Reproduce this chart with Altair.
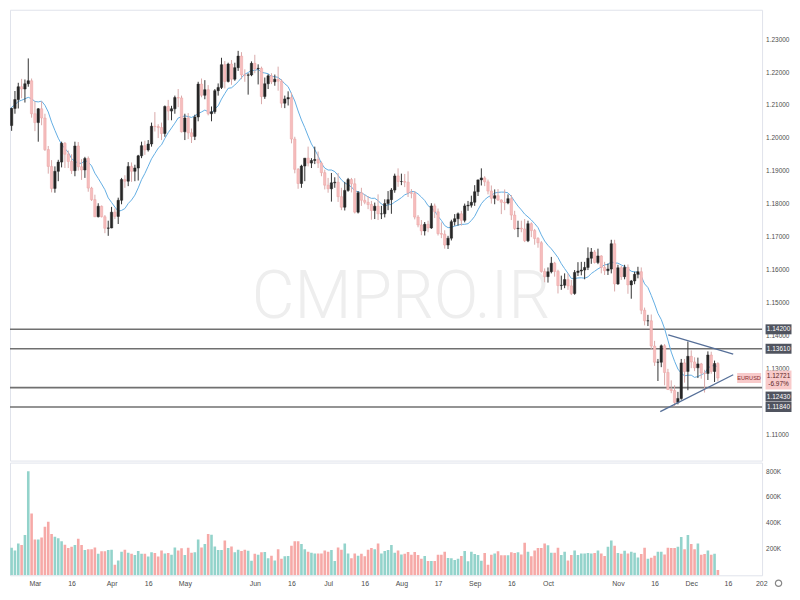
import altair as alt
import pandas as pd

# ---------------- data (EURUSD daily) ----------------
# bar index: 0 = Mar 1 (trading days only); first visible bar is index -8
first_index = -8

opens = [1.2104,1.2039,1.2091,1.2118,1.2157,1.2150,1.2166,1.2175,
 1.2075,1.2048,1.2090,1.2062,1.1966,1.1915,1.1848,1.1900,1.1928,1.1985,
 1.1952,1.1930,1.1902,1.1977,1.1914,1.1904,1.1939,1.1849,1.1814,1.1762,
 1.1794,1.1762,1.1727,1.1728,1.1776,1.1763,1.1812,1.1875,1.1870,1.1915,
 1.1900,1.1910,1.1947,1.1978,1.1965,1.1983,1.2037,1.2036,1.2033,1.2015,
 1.2097,1.2083,1.2090,1.2124,1.2123,1.2020,1.2062,1.2017,1.2006,1.2065,
 1.2165,1.2131,1.2148,1.2075,1.2081,1.2145,1.2155,1.2224,1.2173,1.2226,
 1.2180,1.2215,1.2250,1.2193,1.2192,1.2193,1.2228,1.2212,1.2213,1.2127,
 1.2166,1.2190,1.2172,1.2180,1.2174,1.2107,1.2120,1.2124,1.1998,1.1906,
 1.1863,1.1916,1.1940,1.1925,1.1933,1.1936,1.1925,1.1896,1.1858,1.1847,
 1.1865,1.1867,1.1823,1.1791,1.1842,1.1875,1.1862,1.1776,1.1835,1.1812,
 1.1806,1.1799,1.1781,1.1794,1.1771,1.1771,1.1802,1.1814,1.1843,1.1886,
 1.1869,1.1869,1.1867,1.1835,1.1833,1.1761,1.1737,1.1719,1.1739,1.1728,
 1.1795,1.1777,1.1711,1.1709,1.1676,1.1697,1.1747,1.1756,1.1771,1.1751,
 1.1795,1.1797,1.1806,1.1838,1.1874,1.1880,1.1868,1.1840,1.1818,1.1826,
 1.1813,1.1806,1.1804,1.1817,1.1767,1.1726,1.1727,1.1725,1.1689,1.1741,
 1.1720,1.1696,1.1683,1.1596,1.1580,1.1595,1.1621,1.1596,1.1553,1.1554,
 1.1571,1.1552,1.1529,1.1593,1.1597,1.1600,1.1608,1.1636,1.1655,1.1623,
 1.1643,1.1608,1.1598,1.1603,1.1680,1.1558,1.1607,1.1580,1.1608,1.1555,
 1.1567,1.1587,1.1595,1.1478,1.1446,1.1446,1.1369,1.1320,1.1320,1.1370,
 1.1289,1.1237,1.1234,1.1198,1.1210,1.1318,1.1292,1.1338,1.1321,1.1303,
 1.1315,1.1287,1.1286,1.1342,1.1292,1.1316]

highs = [1.2110,1.2093,1.2144,1.2169,1.2181,1.2179,1.2243,1.2182,
 1.2113,1.2092,1.2113,1.2075,1.1977,1.1934,1.1915,1.1935,1.1990,1.1989,
 1.1963,1.1952,1.1990,1.1989,1.1937,1.1944,1.1945,1.1853,1.1829,1.1803,
 1.1796,1.1767,1.1750,1.1792,1.1787,1.1820,1.1880,1.1888,1.1928,1.1927,
 1.1920,1.1950,1.1990,1.1993,1.1995,1.2048,1.2080,1.2043,1.2048,1.2100,
 1.2117,1.2099,1.2130,1.2150,1.2130,1.2075,1.2077,1.2030,1.2072,1.2172,
 1.2182,1.2177,1.2162,1.2097,1.2150,1.2167,1.2245,1.2235,1.2230,1.2238,
 1.2230,1.2266,1.2262,1.2210,1.2198,1.2234,1.2254,1.2225,1.2218,1.2185,
 1.2195,1.2198,1.2194,1.2218,1.2180,1.2130,1.2143,1.2139,1.2005,1.1910,
 1.1920,1.1940,1.1975,1.1940,1.1975,1.1960,1.1930,1.1905,1.1880,1.1895,
 1.1882,1.1895,1.1850,1.1868,1.1880,1.1880,1.1879,1.1840,1.1850,1.1830,
 1.1825,1.1810,1.1805,1.1830,1.1795,1.1815,1.1840,1.1849,1.1893,1.1909,
 1.1893,1.1892,1.1900,1.1846,1.1840,1.1767,1.1752,1.1746,1.1750,1.1803,
 1.1802,1.1787,1.1745,1.1721,1.1704,1.1753,1.1770,1.1775,1.1780,1.1802,
 1.1810,1.1826,1.1858,1.1875,1.1909,1.1885,1.1875,1.1857,1.1845,1.1846,
 1.1815,1.1845,1.1830,1.1828,1.1780,1.1750,1.1750,1.1755,1.1750,1.1745,
 1.1725,1.1700,1.1688,1.1605,1.1608,1.1640,1.1625,1.1601,1.1583,1.1590,
 1.1590,1.1570,1.1600,1.1624,1.1625,1.1625,1.1669,1.1667,1.1661,1.1665,
 1.1645,1.1625,1.1620,1.1692,1.1692,1.1616,1.1613,1.1616,1.1617,1.1570,
 1.1595,1.1610,1.1608,1.1486,1.1464,1.1465,1.1385,1.1330,1.1374,1.1375,
 1.1300,1.1265,1.1250,1.1230,1.1330,1.1330,1.1383,1.1356,1.1335,1.1334,
 1.1318,1.1297,1.1353,1.1352,1.1325,1.1320]

lows = [1.2023,1.2023,1.2075,1.2091,1.2122,1.2109,1.2157,1.2063,
 1.2022,1.1990,1.2040,1.1962,1.1893,1.1836,1.1835,1.1870,1.1912,1.1910,
 1.1910,1.1892,1.1885,1.1902,1.1874,1.1880,1.1838,1.1810,1.1761,1.1760,
 1.1760,1.1712,1.1704,1.1727,1.1755,1.1740,1.1800,1.1850,1.1855,1.1868,
 1.1870,1.1872,1.1940,1.1950,1.1960,1.1975,1.2021,1.2001,1.1995,1.2005,
 1.2055,1.2055,1.2075,1.2095,1.2018,1.1995,1.1998,1.1986,1.1995,1.2052,
 1.2125,1.2119,1.2070,1.2052,1.2075,1.2130,1.2150,1.2152,1.2170,1.2163,
 1.2175,1.2205,1.2180,1.2172,1.2133,1.2189,1.2198,1.2164,1.2104,1.2120,
 1.2150,1.2165,1.2160,1.2145,1.2093,1.2092,1.2100,1.1985,1.1894,1.1847,
 1.1850,1.1870,1.1915,1.1910,1.1922,1.1910,1.1885,1.1845,1.1835,1.1808,
 1.1850,1.1807,1.1782,1.1781,1.1838,1.1836,1.1772,1.1772,1.1795,1.1800,
 1.1785,1.1753,1.1755,1.1752,1.1755,1.1760,1.1782,1.1771,1.1835,1.1853,
 1.1858,1.1852,1.1822,1.1818,1.1754,1.1730,1.1706,1.1705,1.1715,1.1725,
 1.1758,1.1705,1.1697,1.1665,1.1664,1.1690,1.1735,1.1735,1.1735,1.1745,
 1.1780,1.1790,1.1795,1.1825,1.1857,1.1855,1.1830,1.1802,1.1800,1.1810,
 1.1770,1.1782,1.1800,1.1752,1.1722,1.1700,1.1715,1.1685,1.1685,1.1700,
 1.1677,1.1668,1.1592,1.1563,1.1562,1.1590,1.1580,1.1529,1.1540,1.1545,
 1.1540,1.1524,1.1525,1.1582,1.1584,1.1572,1.1600,1.1619,1.1620,1.1618,
 1.1590,1.1585,1.1585,1.1590,1.1535,1.1555,1.1570,1.1572,1.1528,1.1513,
 1.1557,1.1575,1.1466,1.1432,1.1430,1.1358,1.1309,1.1263,1.1305,1.1250,
 1.1236,1.1226,1.1186,1.1192,1.1206,1.1258,1.1235,1.1302,1.1293,1.1272,
 1.1270,1.1228,1.1266,1.1285,1.1260,1.1262]

closes = [1.2039,1.2091,1.2118,1.2157,1.2150,1.2166,1.2175,1.2075,
 1.2048,1.2090,1.2062,1.1966,1.1915,1.1848,1.1900,1.1928,1.1985,1.1952,
 1.1930,1.1902,1.1977,1.1914,1.1904,1.1939,1.1849,1.1814,1.1762,1.1794,
 1.1762,1.1727,1.1728,1.1776,1.1763,1.1812,1.1875,1.1870,1.1915,1.1900,
 1.1910,1.1947,1.1978,1.1965,1.1983,1.2037,1.2036,1.2033,1.2015,1.2097,
 1.2083,1.2090,1.2124,1.2123,1.2020,1.2062,1.2017,1.2006,1.2065,1.2165,
 1.2131,1.2148,1.2075,1.2081,1.2145,1.2155,1.2224,1.2173,1.2226,1.2180,
 1.2215,1.2250,1.2193,1.2192,1.2193,1.2228,1.2212,1.2213,1.2127,1.2166,
 1.2190,1.2172,1.2180,1.2174,1.2107,1.2120,1.2124,1.1998,1.1906,1.1863,
 1.1916,1.1940,1.1925,1.1933,1.1936,1.1925,1.1896,1.1858,1.1847,1.1865,
 1.1867,1.1823,1.1791,1.1842,1.1875,1.1862,1.1776,1.1835,1.1812,1.1806,
 1.1799,1.1781,1.1794,1.1771,1.1771,1.1802,1.1814,1.1843,1.1886,1.1869,
 1.1869,1.1867,1.1835,1.1833,1.1761,1.1737,1.1719,1.1739,1.1728,1.1795,
 1.1777,1.1711,1.1709,1.1676,1.1697,1.1747,1.1756,1.1771,1.1751,1.1795,
 1.1797,1.1806,1.1838,1.1874,1.1880,1.1868,1.1840,1.1818,1.1826,1.1813,
 1.1806,1.1804,1.1817,1.1767,1.1726,1.1727,1.1725,1.1689,1.1741,1.1720,
 1.1696,1.1683,1.1596,1.1580,1.1595,1.1621,1.1596,1.1553,1.1554,1.1571,
 1.1552,1.1529,1.1593,1.1597,1.1600,1.1608,1.1636,1.1655,1.1623,1.1643,
 1.1608,1.1598,1.1603,1.1680,1.1558,1.1607,1.1580,1.1608,1.1555,1.1567,
 1.1587,1.1595,1.1478,1.1446,1.1446,1.1369,1.1320,1.1320,1.1370,1.1289,
 1.1237,1.1234,1.1198,1.1210,1.1318,1.1292,1.1338,1.1321,1.1303,1.1315,
 1.1287,1.1286,1.1342,1.1292,1.1316,1.1272]

# volume in thousands
volumes_k = [244,213,192,246,233,310,802,477,277,277,
 292,374,413,318,297,285,262,236,210,220,
 233,282,233,195,200,200,215,167,185,185,
 195,197,82,115,182,197,174,167,156,187,
 167,167,144,177,172,144,192,169,172,159,
 215,192,208,156,213,174,177,277,215,241,
 318,313,223,195,195,269,210,223,177,197,
 187,197,190,113,167,159,177,180,131,151,
 115,200,128,146,149,228,262,262,241,200,
 182,174,169,169,169,192,182,195,110,215,
 197,246,169,131,169,151,167,146,197,210,
 200,246,169,187,195,233,174,192,
 161,167,180,159,180,156,128,149,110,110,
 110,159,159,182,133,131,118,128,149,187,
 108,182,164,156,113,172,82,159,169,185,
 154,154,154,177,172,177,161,251,182,146,
 192,210,210,246,231,174,174,213,156,182,
 115,156,192,156,169,169,172,169,172,192,
 169,149,220,269,228,172,167,190,169,182,
 174,138,164,213,128,136,151,182,182,161,
 213,210,210,220,295,200,310,241,200,246,
 159,164,192,159,167,41]

# closes of the 9 bars before the first visible one (only feed the moving average)
warmup_closes = [1.1963,1.2047,1.2050,1.2118,1.2120,1.2131,1.2118,1.2130,1.2104]

# horizontal levels and their axis labels
level_prices = [1.1420, 1.1361, 1.1243, 1.1184]
level_labels = ["1.14200", "1.13610", "1.12430", "1.11840"]

# triangle trend lines (bar index / price of both ends)
tri_x1 = [190.1, 187.7]
tri_p1 = [1.1403, 1.1170]
tri_x2 = [209.6, 209.6]
tri_p2 = [1.1345, 1.1282]

last_price = 1.12721
symbol = "EURUSD"
last_label = "1.12721"
change_label = "-6.97%"
watermark = "CMPRO.IR"

# price labels visible on the axis (1.12000 is hidden behind the level boxes)
price_ticks = [1.11, 1.13, 1.14, 1.15, 1.16, 1.17, 1.18, 1.19, 1.20, 1.21, 1.22, 1.23]
vol_ticks = [200000, 400000, 600000, 800000]
x_tick_idx = [0, 11, 23, 34, 45, 66, 77, 88, 99, 110, 121, 132, 143, 154, 175, 186, 197, 208, 218]
x_tick_lab = ["Mar", "16", "Apr", "16", "May", "Jun", "16", "Jul", "16", "Aug", "17",
              "Sep", "16", "Oct", "Nov", "16", "Dec", "16", "202"]

# ---------------- tables ----------------
n = len(closes)
assert len(opens) == n and len(highs) == n and len(lows) == n and len(volumes_k) == n
idx = list(range(first_index, first_index + n))
df = pd.DataFrame({"i": idx, "o": opens, "h": highs, "l": lows, "c": closes,
                   "v": [v * 1000 for v in volumes_k]})
df["dir"] = ["up" if c >= o else "down" for o, c in zip(opens, closes)]

ma_df = pd.DataFrame({"i": list(range(first_index - len(warmup_closes), first_index)) + idx,
                      "c": warmup_closes + closes})
lev_df = pd.DataFrame({"p": level_prices, "lab": level_labels})
tri_df = pd.DataFrame({"x1": tri_x1, "p1": tri_p1, "x2": tri_x2, "p2": tri_p2})
last_df = pd.DataFrame({"p": [last_price], "sym": [symbol], "lab": [last_label], "chg": [change_label]})
wm_df = pd.DataFrame({"t": [watermark]})
pt_df = pd.DataFrame({"p": price_ticks})
vt_df = pd.DataFrame({"v": vol_ticks})

# ---------------- style ----------------
W, H1, H2 = 754, 452, 113
PX_PER_BAR = 3.34
PX_PER_UNIT = 3300.0
P_TOP = 1.239091
P_DOM = [P_TOP - H1 / PX_PER_UNIT, P_TOP]
X0 = -7.485
X_DOM = [X0, X0 + W / PX_PER_BAR]
V_MAX = H2 / 26.0 * 200000
FONT = "Liberation Sans"
AX_COL = "#4d4d4d"
LAB_X = W + 4
BOX_X = W + 16.5

xs = alt.Scale(domain=X_DOM, nice=False, zero=False, padding=0)
ys = alt.Scale(domain=P_DOM, nice=False, zero=False, padding=0)
BOX = "M-1,-0.385H1V0.385H-1Z"      # 26 x 10 px at size 676
BOX2 = "M-1,-0.73H1V0.73H-1Z"       # 26 x 19 px at size 676
SBOX = "M-1,-0.417H1V0.417H-1Z"     # 24 x 10 px at size 576

wick_scale = alt.Scale(domain=["up", "down"], range=["#333333", "#d9a9a9"])
body_fill = alt.Scale(domain=["up", "down"], range=["#262626", "#f6bdbd"])
body_stroke = alt.Scale(domain=["up", "down"], range=["#262626", "#eaa3a3"])
vol_scale = alt.Scale(domain=["up", "down"], range=["#93d3cb", "#f6a9a7"])

Y = lambda f: alt.Y(f, scale=ys, axis=None)
visible = f"datum.i >= {first_index}"

wm = alt.Chart(wm_df).mark_text(fontSize=66, fontWeight=300, color="#eeeeee",
                                font="Roboto, Liberation Sans, sans-serif",
                                align="center", baseline="middle").encode(
    text="t:N", x=alt.value(392), y=alt.value(289))

price_labels = alt.Chart(pt_df).transform_calculate(
    lab="format(datum.p, '.5f')"
).mark_text(fontSize=6.5, font=FONT, color=AX_COL, align="left", baseline="middle").encode(
    x=alt.value(LAB_X), y=Y("p:Q"), text="lab:N")

lev_rules = alt.Chart(lev_df).mark_rule(color="#707070", strokeWidth=1.6).encode(y=Y("p:Q"))

ma = alt.Chart(ma_df).transform_window(
    ma="mean(c)", frame=[-9, 0], sort=[alt.SortField("i")]
).transform_filter(visible).mark_line(color="#63aee3", strokeWidth=1, clip=True).encode(
    x=alt.X("i:Q", scale=xs, axis=None), y=Y("ma:Q"))

wicks = alt.Chart(df).mark_rule(strokeWidth=1, clip=True).encode(
    x=alt.X("i:Q", scale=xs, axis=None),
    y=Y("l:Q"), y2="h:Q",
    color=alt.Color("dir:N", scale=wick_scale, legend=None))

bodies = alt.Chart(df).mark_bar(size=2.4, strokeWidth=0.5, clip=True).encode(
    x=alt.X("i:Q", scale=xs, axis=None),
    y=Y("o:Q"), y2="c:Q",
    fill=alt.Fill("dir:N", scale=body_fill, legend=None),
    stroke=alt.Stroke("dir:N", scale=body_stroke, legend=None))

tri = alt.Chart(tri_df).mark_rule(color="#566f98", strokeWidth=1.3).encode(
    x=alt.X("x1:Q", scale=xs, axis=None), x2="x2:Q",
    y=Y("p1:Q"), y2="p2:Q")

# axis-side label boxes; the 1.12430 box is pushed down as in the reference (labels avoid overlap)
shifted = "datum.lab == '1.12430'"
lev_box = alt.Chart(lev_df).transform_filter("!(" + shifted + ")").mark_point(
    shape=BOX, size=676, filled=True, opacity=1, color="#50545f", strokeWidth=0).encode(
    x=alt.value(BOX_X), y=Y("p:Q"))
lev_txt = alt.Chart(lev_df).transform_filter("!(" + shifted + ")").mark_text(
    color="white", fontSize=6.5, font=FONT, align="center", baseline="middle").encode(
    x=alt.value(BOX_X), y=Y("p:Q"), text="lab:N")
lev_box2 = alt.Chart(lev_df).transform_filter(shifted).mark_point(
    shape=BOX, size=676, filled=True, opacity=1, color="#50545f", strokeWidth=0, yOffset=9).encode(
    x=alt.value(BOX_X), y=Y("p:Q"))
lev_txt2 = alt.Chart(lev_df).transform_filter(shifted).mark_text(
    color="white", fontSize=6.5, font=FONT, align="center", baseline="middle", dy=9).encode(
    x=alt.value(BOX_X), y=Y("p:Q"), text="lab:N")

sym_box = alt.Chart(last_df).mark_point(shape=SBOX, size=576, filled=True, opacity=1,
                                        color="#f8caca", strokeWidth=0).encode(
    x=alt.value(W - 13), y=Y("p:Q"))
sym_txt = alt.Chart(last_df).mark_text(color="#8a2f2f", fontSize=5.6, font=FONT,
                                       align="center", baseline="middle").encode(
    x=alt.value(W - 13), y=Y("p:Q"), text="sym:N")
last_box = alt.Chart(last_df).mark_point(shape=BOX2, size=676, filled=True, opacity=1,
                                         color="#f8caca", strokeWidth=0, yOffset=2).encode(
    x=alt.value(BOX_X), y=Y("p:Q"))
last_txt = alt.Chart(last_df).mark_text(color="#5a2525", fontSize=6.5, font=FONT,
                                        align="center", baseline="middle", dy=-2).encode(
    x=alt.value(BOX_X), y=Y("p:Q"), text="lab:N")
chg_txt = alt.Chart(last_df).mark_text(color="#5a2525", fontSize=6.5, font=FONT,
                                       align="center", baseline="middle", dy=6).encode(
    x=alt.value(BOX_X), y=Y("p:Q"), text="chg:N")

price_panel = alt.layer(
    wm, price_labels, lev_rules, ma, wicks, bodies, tri, lev_box, lev_txt, lev_box2, lev_txt2,
    sym_box, sym_txt, last_box, last_txt, chg_txt
).properties(width=W, height=H1)

# x-axis label expression
expr = "''"
for v, t in reversed(list(zip(x_tick_idx, x_tick_lab))):
    expr = f"datum.value == {v} ? '{t}' : ({expr})"

vs = alt.Scale(domain=[0, V_MAX], nice=False, zero=True, padding=0)
vol_bars = alt.Chart(df).mark_bar(size=2.6, clip=True).encode(
    x=alt.X("i:Q", scale=xs, axis=alt.Axis(values=x_tick_idx, labelExpr=expr, grid=False,
                                           ticks=False, domain=False, labelPadding=4,
                                           labelFontSize=7, labelColor=AX_COL, labelFont=FONT,
                                           labelOverlap=False, labelFlush=False, labelBound=False,
                                           title=None)),
    y=alt.Y("v:Q", scale=vs, axis=None),
    color=alt.Color("dir:N", scale=vol_scale, legend=None))

vol_labels = alt.Chart(vt_df).transform_calculate(
    lab="format(datum.v / 1000, 'd') + 'K'"
).mark_text(fontSize=6.5, font=FONT, color=AX_COL, align="left", baseline="middle").encode(
    x=alt.value(LAB_X), y=alt.Y("v:Q", scale=vs, axis=None), text="lab:N")

gear = alt.Chart(wm_df).mark_point(shape="circle", size=40, filled=False, color="#555555",
                                   strokeWidth=1.2).encode(x=alt.value(BOX_X), y=alt.value(H2 + 8))

vol_panel = alt.layer(vol_bars, vol_labels, gear).properties(width=W, height=H2)

chart = alt.vconcat(price_panel, vol_panel, spacing=0).resolve_scale(
    color="independent", fill="independent", stroke="independent",
    x="independent", y="independent"
).properties(
    padding={"left": 0, "top": 0, "right": 0, "bottom": 0},
    autosize=alt.AutoSizeParams(type="pad"),
    background="white",
).configure_view(stroke="#e0e3eb", strokeWidth=1)

chart.save("out.html", embed_options={"renderer": "svg", "actions": False})
